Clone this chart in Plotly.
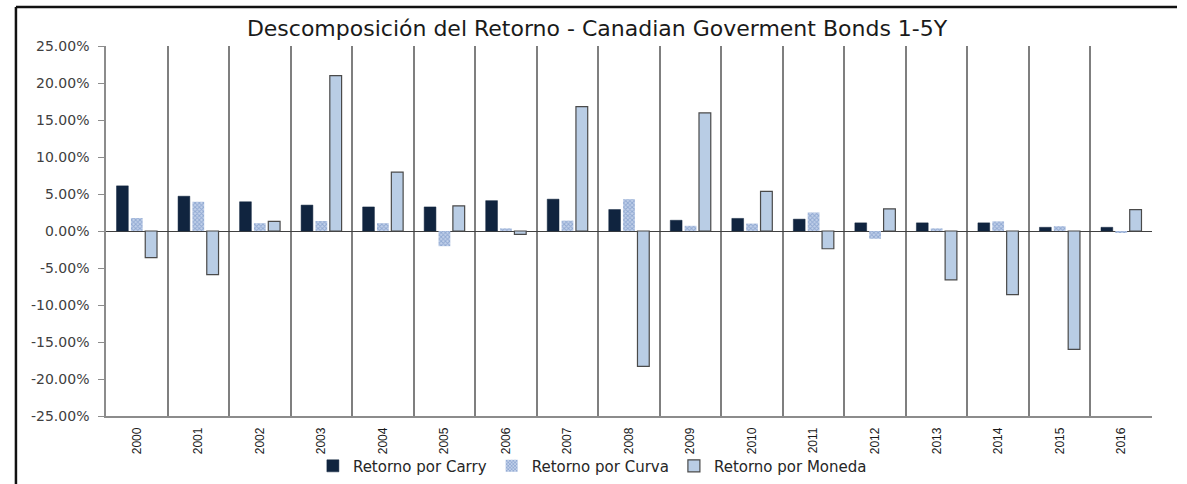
import plotly.graph_objects as go

years = [str(y) for y in range(2000, 2017)]
carry = [6.1, 4.7, 3.95, 3.5, 3.25, 3.25, 4.1, 4.3, 2.9, 1.45, 1.7, 1.6, 1.1, 1.1, 1.1, 0.5, 0.5]
curva = [1.75, 3.95, 1.05, 1.35, 1.05, -2.05, 0.35, 1.4, 4.3, 0.7, 1.0, 2.5, -1.05, 0.35, 1.3, 0.65, -0.15]
moneda = [-3.6, -5.9, 1.3, 21.0, 7.95, 3.4, -0.45, 16.8, -18.3, 15.95, 5.35, -2.4, 3.0, -6.6, -8.6, -16.0, 2.9]
y_ticks = [25, 20, 15, 10, 5, 0, -5, -10, -15, -20, -25]
y_labels = ["{:.2f}%".format(v) for v in y_ticks]

x = list(range(len(years)))
font_main = "DejaVu Sans"

fig = go.Figure()
fig.add_trace(go.Bar(
    x=x, y=carry, name="Retorno por Carry",
    marker=dict(color="#10243f", line=dict(color="#10243f", width=0.5)),
))
fig.add_trace(go.Bar(
    x=x, y=curva, name="Retorno por Curva",
    marker=dict(color="#b7c9e6",
                line=dict(color="#b7c9e6", width=0),
                pattern=dict(shape="x", fgcolor="#6283bb", bgcolor="#c2d1ea",
                             size=3, solidity=0.55, fillmode="overlay")),
))
fig.add_trace(go.Bar(
    x=x, y=moneda, name="Retorno por Moneda",
    marker=dict(color="#b9cde5", line=dict(color="#4a4a4a", width=1.2)),
))

fig.update_layout(
    width=1187, height=484,
    margin=dict(l=106, r=35, t=46, b=68),
    paper_bgcolor="white", plot_bgcolor="white",
    barmode="group", bargap=0.3, bargroupgap=0.18,
    title=dict(text="Descomposición del Retorno - Canadian Goverment Bonds 1-5Y",
               x=0.503, xanchor="center", y=0.942, yanchor="middle",
               font=dict(family=font_main, size=22, color="#1a1a1a")),
    legend=dict(orientation="h", xref="paper", yref="container",
                x=0.465, xanchor="center", y=0.037, yanchor="middle",
                bgcolor="rgba(0,0,0,0)",
                font=dict(family=font_main, size=15, color="#262626"),
                itemwidth=30, traceorder="normal"),
    showlegend=True,
)
fig.update_xaxes(
    type="linear", range=[-0.5, len(years) - 0.5], automargin=False,
    tickmode="array", tickvals=x, ticktext=years, tickangle=-90,
    tickfont=dict(family="Liberation Sans", size=12, color="#1a1a1a"),
    ticklabelstandoff=5,
    showgrid=False, ticks="", ticklen=0,
    showline=True, linecolor="#8c8c8c", linewidth=1.5,
    minor=dict(tick0=0.5, dtick=1, showgrid=True, gridcolor="#7f7f7f", gridwidth=1.5, ticks=""),
    zeroline=False, fixedrange=True,
)
fig.update_yaxes(
    range=[-25, 25], automargin=False,
    tickmode="array", tickvals=y_ticks, ticktext=y_labels,
    tickfont=dict(family=font_main, size=14, color="#404040"),
    ticklabelstandoff=6,
    showgrid=False, ticks="outside", ticklen=6, tickcolor="#8c8c8c", tickwidth=1,
    showline=True, linecolor="#8c8c8c", linewidth=1.5,
    zeroline=True, zerolinecolor="#404040", zerolinewidth=1.2,
)

# outer chart frame (top and left edges visible in the original screenshot)
fig.add_shape(type="line", xref="paper", yref="paper",
              x0=-0.0861, x1=1.0239, y0=1.1054, y1=1.1054,
              line=dict(color="#111111", width=2.5))
fig.add_shape(type="line", xref="paper", yref="paper",
              x0=-0.0861, x1=-0.0861, y0=1.1054, y1=-0.2,
              line=dict(color="#111111", width=2.5))

fig.write_html("out.html")
